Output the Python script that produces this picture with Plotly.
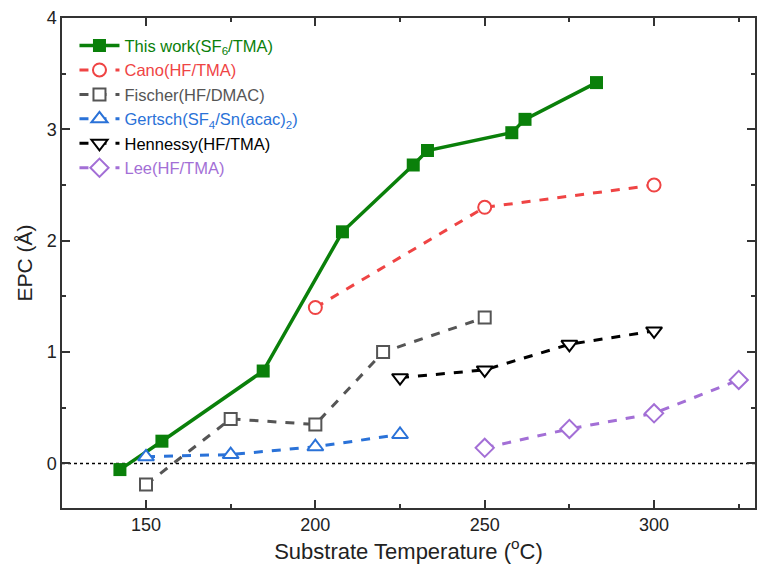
import plotly.graph_objects as go

# This work (SF6/TMA)
this_T = [142.3, 154.7, 184.6, 208.0, 228.9, 233.1, 258.0, 261.9, 283.0]
this_V = [-0.055, 0.20, 0.83, 2.08, 2.68, 2.81, 2.97, 3.09, 3.42]
# Cano (HF/TMA)
cano_T = [200, 250, 300]
cano_V = [1.40, 2.30, 2.50]
# Fischer (HF/DMAC)
fischer_T = [150, 175, 200, 220, 250]
fischer_V = [-0.19, 0.40, 0.35, 1.00, 1.31]
# Gertsch (SF4/Sn(acac)2)
gertsch_T = [150, 175, 200, 225]
gertsch_V = [0.06, 0.08, 0.15, 0.26]
# Hennessy (HF/TMA)
henn_T = [225, 250, 275, 300]
henn_V = [0.77, 0.84, 1.07, 1.19]
# Lee (HF/TMA)
lee_T = [250, 275, 300, 325]
lee_V = [0.14, 0.31, 0.45, 0.75]

x_ticks = [150, 200, 250, 300]
y_ticks = [0, 1, 2, 3, 4]

GREEN = "#0a800a"
RED = "#ef4444"
GRAY = "#555555"
BLUE = "#2a72d8"
BLACK = "#000000"
PURPLE = "#a36fd6"
FONT = "Arial, Liberation Sans, sans-serif"


def lab(text, color):
    return f'<span style="color:{color}">{text}</span>'


fig = go.Figure()

fig.add_trace(go.Scatter(
    x=this_T, y=this_V, mode="lines+markers",
    name=lab("This work(SF<sub>6</sub>/TMA)", GREEN),
    line=dict(color=GREEN, width=3.5),
    marker=dict(symbol="square", size=13, color=GREEN),
))


def open_trace(xs, ys, name, color, symbol, size):
    return go.Scatter(
        x=xs, y=ys, mode="lines+markers", name=lab(name, color),
        line=dict(color=color, width=3, dash="dash"),
        marker=dict(symbol=symbol, size=size, color="white", line=dict(width=2, color=color)),
    )


fig.add_trace(open_trace(cano_T, cano_V, "Cano(HF/TMA)", RED, "circle", 13))
fig.add_trace(open_trace(fischer_T, fischer_V, "Fischer(HF/DMAC)", GRAY, "square", 12))
fig.add_trace(open_trace(gertsch_T, gertsch_V, "Gertsch(SF<sub>4</sub>/Sn(acac)<sub>2</sub>)", BLUE, "triangle-up", 14))
fig.add_trace(open_trace(henn_T, henn_V, "Hennessy(HF/TMA)", BLACK, "triangle-down", 14))
fig.add_trace(open_trace(lee_T, lee_V, "Lee(HF/TMA)", PURPLE, "diamond", 14))

fig.add_shape(type="line", xref="paper", x0=0, x1=1, yref="y", y0=0, y1=0,
              line=dict(color="black", width=1.5, dash="dot"), layer="below")

axis_common = dict(
    showline=True, linecolor="#333333", linewidth=1.5, mirror="ticks",
    ticks="inside", ticklen=8, tickwidth=1.5, tickcolor="#333333",
    showgrid=False, zeroline=False, automargin=False,
    tickfont=dict(family=FONT, size=18, color="#222222"),
)

fig.update_xaxes(
    range=[125.2, 329.8], tickvals=x_ticks,
    minor=dict(ticks="inside", ticklen=4, tickwidth=1.5, tickcolor="#333333", dtick=25, tick0=125),
    title=dict(text="Substrate Temperature (<sup>o</sup>C)",
               font=dict(family=FONT, size=22, color="#222222"), standoff=2),
    **axis_common,
)
fig.update_yaxes(
    range=[-0.4, 4.0], tickvals=y_ticks,
    minor=dict(ticks="inside", ticklen=4, tickwidth=1.5, tickcolor="#333333", dtick=0.5, tick0=0),
    title=dict(text="EPC (Å)",
               font=dict(family=FONT, size=21, color="#222222"), standoff=8),
    **axis_common,
)

fig.update_layout(
    width=765, height=566,
    margin=dict(l=62, r=10, t=18, b=58, autoexpand=False),
    plot_bgcolor="white", paper_bgcolor="white",
    legend=dict(x=0.018, y=0.979, xanchor="left", yanchor="top",
                bgcolor="rgba(0,0,0,0)", borderwidth=0,
                font=dict(family=FONT, size=16.5),
                itemwidth=40, tracegroupgap=0),
    font=dict(family=FONT),
)

fig.write_html("out.html", config={"displayModeBar": False},
               post_script="document.body.style.margin='0';")
